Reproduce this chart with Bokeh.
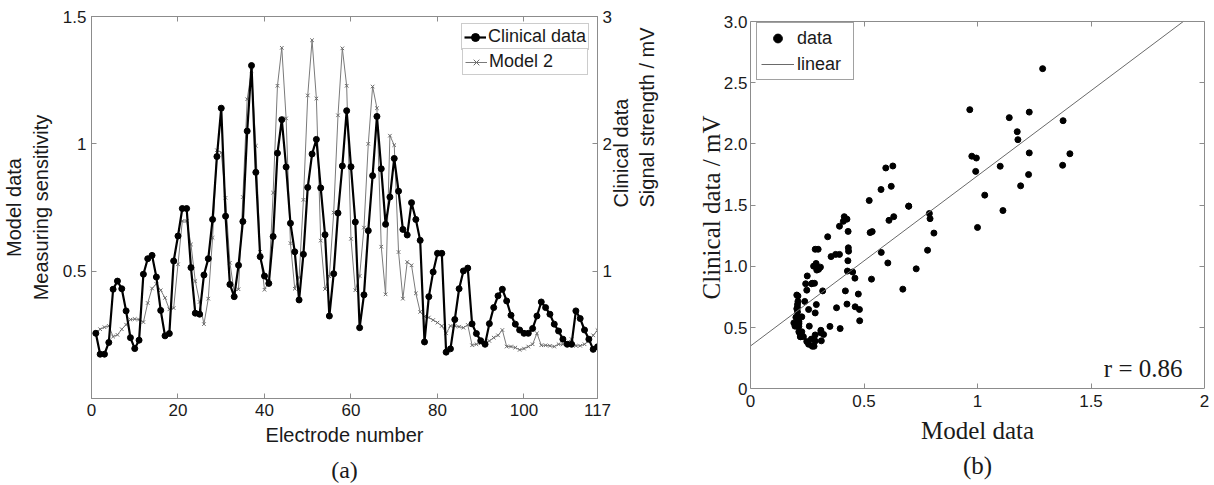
import numpy as np
from bokeh.plotting import figure
from bokeh.models import (LinearAxis, Range1d, FixedTicker, Legend, LegendItem, Label)
from bokeh.layouts import row
from bokeh.embed import file_html
from bokeh.resources import INLINE

# ---------------- data ----------------
electrode = list(range(1, 118))

clinical_mv = [0.512, 0.348, 0.348, 0.44, 0.858, 0.922, 0.862, 0.688, 0.478, 0.392,
               0.458, 0.976, 1.098, 1.124, 0.954, 0.692, 0.492, 0.51, 1.08, 1.276,
               1.492, 1.492, 1.028, 0.67, 0.662, 0.97, 1.098, 1.406, 1.90, 2.28,
               1.432, 0.896, 0.80, 1.046, 1.39, 2.10, 2.615, 1.776, 1.114, 0.962,
               0.904, 1.272, 1.927, 2.19, 1.818, 1.376, 1.152, 0.774, 1.132, 1.658,
               1.92, 2.035, 1.654, 1.286, 0.648, 0.98, 1.456, 1.826, 2.26, 1.82,
               1.386, 0.556, 0.814, 1.318, 1.75, 2.215, 1.804, 1.368, 1.582, 1.885,
               1.628, 1.328, 1.284, 1.538, 1.406, 1.242, 0.444, 0.80, 0.994, 1.14,
               1.14, 0.364, 0.39, 0.62, 0.862, 1.002, 1.024, 0.586, 0.51, 0.454,
               0.426, 0.588, 0.714, 0.806, 0.858, 0.766, 0.654, 0.584, 0.538, 0.512,
               0.512, 0.55, 0.648, 0.758, 0.714, 0.662, 0.584, 0.53, 0.466, 0.426,
               0.426, 0.688, 0.628, 0.538, 0.466, 0.386, 0.406]

model2 = [0.259, 0.272, 0.28, 0.285, 0.243, 0.25, 0.272, 0.29, 0.31, 0.312,
          0.31, 0.30, 0.375, 0.432, 0.45, 0.425, 0.395, 0.35, 0.355, 0.527,
          0.697, 0.697, 0.605, 0.461, 0.379, 0.292, 0.392, 0.631, 0.975, 0.966,
          0.788, 0.533, 0.418, 0.429, 0.791, 1.175, 1.287, 0.992, 0.576, 0.427,
          0.46, 0.808, 1.228, 1.377, 1.10, 0.61, 0.431, 0.475, 0.78, 1.19,
          1.407, 1.178, 0.62, 0.43, 0.48, 0.73, 1.112, 1.375, 1.228, 0.627,
          0.425, 0.481, 0.671, 1.0, 1.225, 1.14, 0.596, 0.409, 1.032, 0.995,
          0.575, 0.392, 0.536, 0.523, 0.413, 0.340, 0.322, 0.318, 0.308, 0.298,
          0.285, 0.256, 0.285, 0.285, 0.282, 0.278, 0.289, 0.209, 0.213, 0.217,
          0.220, 0.226, 0.239, 0.248, 0.269, 0.204, 0.204, 0.200, 0.191, 0.196,
          0.204, 0.213, 0.256, 0.209, 0.209, 0.207, 0.204, 0.213, 0.213, 0.220,
          0.233, 0.207, 0.207, 0.213, 0.226, 0.248, 0.268]

x_ticks_a = [0, 20, 40, 60, 80, 100, 117]
y_ticks_model = [0.5, 1, 1.5]
y_ticks_clin = [1, 2, 3]
x_ticks_b = [0, 0.5, 1, 1.5, 2]
y_ticks_b = [0, 0.5, 1, 1.5, 2, 2.5, 3]

fit_slope = 1.39
fit_intercept = 0.35
r_text = "r = 0.86"

SANS = "Liberation Sans"
SERIF = "Liberation Serif"
FRAME = "#8c8c8c"
TXT = "#1a1a1a"


def style_axis(ax, size="17px"):
    ax.axis_line_color = FRAME
    ax.major_tick_line_color = FRAME
    ax.minor_tick_line_color = None
    ax.major_tick_in = 5
    ax.major_tick_out = 0
    ax.major_label_text_font = SANS
    ax.major_label_text_font_size = size
    ax.major_label_text_color = TXT
    ax.axis_label_text_color = TXT
    ax.axis_label_text_font_style = "normal"


def blank_axis(ax):
    ax.major_label_text_font_size = "0px"
    ax.major_label_text_alpha = 0
    ax.major_label_standoff = 0


TOP, BOTTOM = 16, 86

# ---------------- panel (a) ----------------
p1 = figure(width=690, height=485, output_backend="svg", toolbar_location=None, title=None,
            x_range=Range1d(0, 117), y_range=Range1d(0, 1.5),
            min_border_left=88, min_border_right=93, min_border_top=TOP, min_border_bottom=BOTTOM)
p1.extra_y_ranges = {"clin": Range1d(0, 3)}
p1.grid.visible = False
p1.outline_line_color = FRAME

p1.xaxis.ticker = FixedTicker(ticks=x_ticks_a)
p1.yaxis.ticker = FixedTicker(ticks=y_ticks_model)
style_axis(p1.xaxis[0])
style_axis(p1.yaxis[0])
p1.xaxis.axis_label = "Electrode number"
p1.xaxis.axis_label_text_font = SANS
p1.xaxis.axis_label_text_font_size = "20px"
p1.xaxis.axis_label_standoff = 5
p1.yaxis.axis_label = "Model data\nMeasuring sensitivity"
p1.yaxis.axis_label_text_font = SANS
p1.yaxis.axis_label_text_font_size = "20px"
p1.yaxis.axis_label_standoff = 8

ax_r = LinearAxis(y_range_name="clin", ticker=FixedTicker(ticks=y_ticks_clin),
                  axis_label="Clinical data\nSignal strength / mV")
style_axis(ax_r)
ax_r.axis_label_text_font = SANS
ax_r.axis_label_text_font_size = "20px"
ax_r.axis_label_standoff = 19
if "axis_label_orientation" in ax_r.properties():
    ax_r.axis_label_orientation = np.pi / 2
p1.add_layout(ax_r, "right")

ax_top = LinearAxis(ticker=FixedTicker(ticks=x_ticks_a))
style_axis(ax_top)
blank_axis(ax_top)
p1.add_layout(ax_top, "above")

ax_cap_a = LinearAxis(ticker=FixedTicker(ticks=[]), axis_label="(a)")
ax_cap_a.axis_line_color = None
ax_cap_a.major_tick_line_color = None
ax_cap_a.minor_tick_line_color = None
blank_axis(ax_cap_a)
ax_cap_a.axis_label_text_font = SERIF
ax_cap_a.axis_label_text_font_size = "24px"
ax_cap_a.axis_label_text_line_height = 1.0
ax_cap_a.axis_label_text_font_style = "normal"
ax_cap_a.axis_label_text_color = TXT
ax_cap_a.axis_label_standoff = 8
p1.add_layout(ax_cap_a, "below")

l_m = p1.line(electrode, model2, line_color="#7a7a7a", line_width=1)
s_m = p1.scatter(electrode, model2, marker="x", size=5, line_color="#6a6a6a", line_width=1)
l_c = p1.line(electrode, clinical_mv, y_range_name="clin", line_color="black", line_width=2.2)
s_c = p1.scatter(electrode, clinical_mv, y_range_name="clin", marker="circle", size=6,
                 fill_color="black", line_color="black")

for loc, lab, rends in [((370, 348), "Clinical data", [l_c, s_c]),
                        ((371, 323), "Model 2", [l_m, s_m])]:
    lg = Legend(items=[LegendItem(label=lab, renderers=rends)], location=loc,
                label_text_font=SANS, label_text_font_size="18px", label_text_color=TXT,
                glyph_width=22, glyph_height=20, label_height=20, label_width=96,
                label_standoff=2, padding=2, margin=0, spacing=0,
                border_line_color="#9a9a9a", border_line_width=1,
                background_fill_color="white", background_fill_alpha=1)
    p1.add_layout(lg, "center")

# ---------------- panel (b) ----------------
# The canvas frame is shared in height with panel (a); the visible box (0..3 x 0..2)
# is drawn by axes placed at the data limits.
p2 = figure(width=524, height=485, output_backend="svg", toolbar_location=None, title=None,
            x_range=Range1d(0, 2), y_range=Range1d(-0.079, 3.041),
            min_border_left=60, min_border_right=10, min_border_top=TOP, min_border_bottom=BOTTOM)
p2.grid.visible = False
p2.outline_line_color = None

# labels-only bottom axis at the canvas frame edge
style_axis(p2.xaxis[0])
p2.xaxis.ticker = FixedTicker(ticks=x_ticks_b)
p2.xaxis.axis_line_color = None
p2.xaxis.major_tick_line_color = None
p2.xaxis.major_label_standoff = -4
p2.xaxis.axis_label = "Model data\n(b)"
p2.xaxis.axis_label_text_font = SERIF
p2.xaxis.axis_label_text_font_size = "25px"
p2.xaxis.axis_label_text_line_height = 1.3
p2.xaxis.axis_label_standoff = 7

# line + ticks of the box bottom at y = 0
ax_bb = LinearAxis(ticker=FixedTicker(ticks=x_ticks_b[1:-1]), fixed_location=y_ticks_b[0])
style_axis(ax_bb)
blank_axis(ax_bb)
p2.add_layout(ax_bb, "below")

p2.yaxis.ticker = FixedTicker(ticks=y_ticks_b)
p2.yaxis.major_label_overrides = {1: "1.0", 2: "2.0", 3: "3.0"}
style_axis(p2.yaxis[0])
p2.yaxis.bounds = (y_ticks_b[0], y_ticks_b[-1])
p2.yaxis.major_label_standoff = 3
p2.yaxis.axis_label = "Clinical data / mV"
p2.yaxis.axis_label_text_font = SERIF
p2.yaxis.axis_label_text_font_size = "25px"
p2.yaxis.axis_label_standoff = -4

ax_rb = LinearAxis(ticker=FixedTicker(ticks=y_ticks_b[1:]), bounds=(y_ticks_b[0], y_ticks_b[-1]))
style_axis(ax_rb)
blank_axis(ax_rb)
p2.add_layout(ax_rb, "right")
ax_tb = LinearAxis(ticker=FixedTicker(ticks=x_ticks_b[1:-1]), fixed_location=y_ticks_b[-1])
style_axis(ax_tb)
blank_axis(ax_tb)
p2.add_layout(ax_tb, "above")

s_d = p2.scatter(model2, clinical_mv, marker="circle", size=6, fill_color="black", line_color="black")
fx = np.array([0.0, (y_ticks_b[-1] - fit_intercept) / fit_slope])
l_f = p2.line(fx, fit_intercept + fit_slope * fx, line_color="#6a6a6a", line_width=1)

lg2 = Legend(items=[LegendItem(label="data", renderers=[s_d]),
                    LegendItem(label="linear", renderers=[l_f])],
             location=(6, 318), label_text_font=SANS, label_text_font_size="18px",
             label_text_color=TXT, glyph_width=33, glyph_height=22, label_height=22,
             label_width=52, label_standoff=3, padding=4, margin=0, spacing=4,
             border_line_color="#444444", border_line_width=1,
             background_fill_color="white", background_fill_alpha=1)
p2.add_layout(lg2, "center")

p2.add_layout(Label(x=1.903, y=0.17, text=r_text, text_align="right",
                    text_baseline="alphabetic", text_font=SERIF,
                    text_font_size="25px", text_color=TXT))

layout = row(p1, p2)
open("out.html", "w").write(file_html(layout, INLINE))
